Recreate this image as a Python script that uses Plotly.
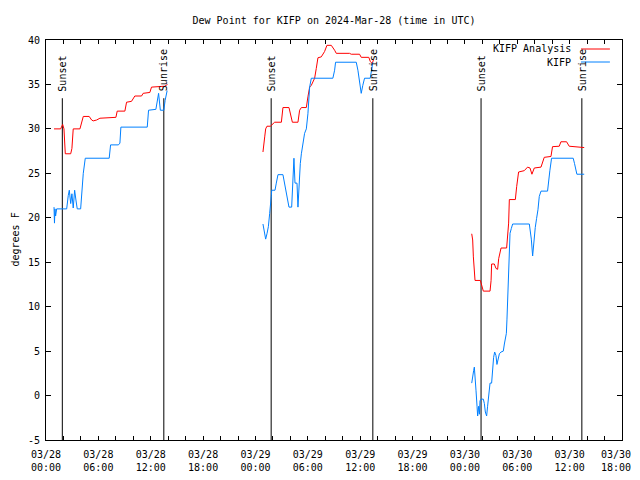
import plotly.graph_objects as go

# ---------------- data ----------------
title_text = "Dew Point for KIFP on 2024-Mar-28 (time in UTC)"
y_label = "degrees F"
series_names = ["KIFP Analysis", "KIFP"]

# hours since 03/28 00:00 UTC
x_tick_hours = list(range(0, 67, 2))
x_tick_labels = {0: "03/28<br>00:00", 6: "03/28<br>06:00", 12: "03/28<br>12:00", 18: "03/28<br>18:00",
                 24: "03/29<br>00:00", 30: "03/29<br>06:00", 36: "03/29<br>12:00", 42: "03/29<br>18:00",
                 48: "03/30<br>00:00", 54: "03/30<br>06:00", 60: "03/30<br>12:00", 66: "03/30<br>18:00"}
last_tick_hour = 66
y_tick_values = [-5, 0, 5, 10, 15, 20, 25, 30, 35, 40]

sunset_hours = [1.87, 25.8, 49.85]
sunrise_hours = [13.5, 37.45, 61.4]

analysis_h1 = [0.92, 1.68, 1.91, 2.06, 2.21, 2.83, 2.97, 3.12, 3.89, 4.04, 4.27, 4.95, 5.23, 5.41, 5.8, 6.18,
               6.75, 8.01, 8.16, 9.04, 9.23, 9.8, 10.18, 10.95, 11.13, 11.9, 12.09, 13.04, 13.6, 13.92]
analysis_d1 = [30.0, 30.0, 30.5, 30.0, 27.2, 27.2, 27.8, 30.0, 30.0, 30.6, 31.4, 31.4, 31.0, 30.9, 31.0, 31.2,
               31.25, 31.3, 32.0, 32.0, 33.0, 33.1, 33.7, 33.7, 34.0, 34.1, 34.7, 34.8, 34.8, 35.0]
analysis_h2 = [24.86, 24.94, 25.06, 25.17, 25.32, 25.71, 26.09, 26.2, 26.97, 27.04, 27.15, 27.84, 28.11, 28.23,
               28.87, 29.06, 29.26, 29.83, 30.01, 30.21, 30.4, 30.78, 30.97, 31.16, 31.54, 31.73, 31.92, 32.19,
               32.69, 33.07, 33.26, 34.78, 34.98, 35.93, 36.12, 36.99, 37.15, 37.38, 37.53]
analysis_d2 = [27.4, 28.35, 29.1, 30.0, 30.3, 30.3, 30.6, 30.75, 30.75, 31.9, 32.4, 32.4, 31.0, 30.75,
               30.75, 32.1, 32.4, 32.4, 33.6, 34.7, 34.9, 35.7, 36.8, 38.0, 38.1, 38.35, 38.7, 39.4,
               39.4, 38.85, 38.5, 38.5, 38.4, 38.4, 38.05, 38.05, 37.6, 37.35, 37.8]
analysis_h3 = [48.78, 48.89, 48.97, 49.08, 49.16, 49.77, 49.96, 50.11, 50.88, 51.0, 51.06, 51.37, 51.56, 51.75,
               51.87, 52.03, 52.14, 52.78, 52.9, 53.01, 53.09, 53.78, 53.93, 54.15, 54.8, 55.18, 55.46, 55.68,
               55.95, 56.72, 57.09, 57.86, 58.04, 58.81, 59.0, 59.65, 59.95, 61.1, 61.67]
analysis_d3 = [18.2, 17.5, 15.6, 13.7, 12.95, 12.95, 12.4, 11.75, 11.75, 12.95, 14.8, 14.8, 14.3, 14.2,
               15.4, 16.4, 16.6, 16.6, 17.7, 19.4, 22.05, 22.05, 23.5, 25.15, 25.3, 25.7, 25.6, 24.9,
               25.6, 25.7, 26.8, 26.9, 28.0, 28.05, 28.55, 28.55, 28.05, 28.0, 27.9]

obs_h1 = [0.92, 0.97, 1.03, 1.1, 1.22, 2.37, 2.55, 2.67, 2.83, 2.97, 3.12, 3.28, 3.43, 3.58, 3.97, 4.12, 4.27,
          4.5, 7.24, 7.4, 8.3, 8.47, 8.58, 11.6, 11.75, 12.59, 12.9, 13.1, 13.5, 13.65, 13.88]
obs_d1 = [21.2, 19.4, 21.0, 20.2, 21.0, 21.0, 22.5, 23.1, 21.6, 22.7, 21.1, 23.1, 22.0, 21.0, 21.0, 23.1, 25.0,
          26.7, 26.7, 28.2, 28.2, 28.4, 30.2, 30.2, 32.1, 32.2, 34.0, 32.1, 32.1, 33.2, 34.3]
obs_h2 = [24.86, 24.98, 25.17, 25.32, 25.48, 25.63, 25.71, 25.82, 25.86, 26.24, 26.39, 26.58, 27.15, 27.35,
          27.54, 27.72, 27.84, 28.15, 28.3, 28.41, 28.53, 28.76, 28.87, 28.99, 29.14, 29.26, 29.44, 29.63,
          29.83, 30.01, 30.21, 30.4, 32.87, 33.07, 33.18, 35.55, 35.74, 35.93, 36.12, 36.3, 36.5, 37.15,
          37.3, 37.45]
obs_d2 = [19.3, 18.6, 17.6, 18.2, 19.0, 20.5, 21.1, 22.5, 23.1, 23.1, 23.9, 24.85, 24.85, 23.9,
          22.7, 21.8, 21.2, 21.2, 23.9, 26.7, 23.9, 23.9, 21.2, 23.9, 26.1, 27.2, 28.35, 29.5,
          30.0, 31.7, 34.7, 35.7, 35.7, 36.6, 37.5, 37.5, 36.6, 35.1, 34.0, 34.9, 35.7, 35.7,
          36.6, 37.5]
obs_h3 = [48.78, 48.89, 49.0, 49.08, 49.16, 49.27, 49.39, 49.46, 49.58, 49.66, 49.73, 49.85, 50.11, 50.23,
          50.34, 50.49, 50.6, 50.72, 50.88, 51.06, 51.18, 51.29, 51.41, 51.56, 51.67, 51.79, 51.95, 52.14,
          52.4, 52.52, 52.63, 52.75, 52.82, 52.94, 53.01, 53.17, 53.32, 53.47, 55.38, 55.49, 55.61, 55.76,
          55.91, 56.06, 56.21, 56.37, 56.52, 56.72, 57.47, 57.59, 57.74, 57.93, 60.41, 60.56, 60.72, 60.83,
          61.67]
obs_d3 = [1.4, 2.35, 2.8, 3.2, 2.35, 0.6, -1.2, -2.3, -1.2, -2.1, -0.6, -0.4, -0.4, -0.9,
          -1.85, -2.3, -1.2, -0.3, 1.4, 1.4, 3.2, 4.3, 4.9, 4.5, 3.5, 3.9, 4.7, 4.9,
          5.0, 5.8, 6.3, 7.0, 8.6, 12.2, 15.7, 18.25, 18.8, 19.3, 19.3, 18.6, 17.6, 15.7,
          17.5, 18.9, 19.9, 20.9, 22.4, 23.0, 23.0, 24.25, 25.35, 26.7, 26.7, 26.1, 25.2, 24.9,
          24.9]

analysis_hours = analysis_h1 + [None] + analysis_h2 + [None] + analysis_h3
analysis_dewpt = analysis_d1 + [None] + analysis_d2 + [None] + analysis_d3
obs_hours = obs_h1 + [None] + obs_h2 + [None] + obs_h3
obs_dewpt = obs_d1 + [None] + obs_d2 + [None] + obs_d3

# ---------------- figure ----------------
FONT = "DejaVu Sans Mono"
RED = "#ff0000"
BLUE = "#0080ff"
# the page body adds an 8px margin on every side; size the figure so the page does not scroll
FIG_W, FIG_H = 624, 464
M_L, M_R, M_T, M_B = 38, 10, 32, 32

fig = go.Figure()
fig.add_trace(go.Scatter(x=analysis_hours, y=analysis_dewpt, mode="lines", name=series_names[0],
                         line=dict(color=RED, width=1), connectgaps=False, showlegend=False))
fig.add_trace(go.Scatter(x=obs_hours, y=obs_dewpt, mode="lines", name=series_names[1],
                         line=dict(color=BLUE, width=1), connectgaps=False, showlegend=False))

line_top = 33.45
for label, hours in (("Sunset", sunset_hours), ("Sunrise", sunrise_hours)):
    for h in hours:
        fig.add_shape(type="line", x0=h, x1=h, y0=-5, y1=line_top, xref="x", yref="y",
                      line=dict(color="black", width=1), layer="below")
        fig.add_annotation(x=h, y=34.0, xref="x", yref="y", text=label, textangle=-90,
                           showarrow=False, yanchor="bottom", xanchor="center",
                           font=dict(family=FONT, size=10, color="black"))

# key (gnuplot style: text right-aligned, sample line to the right)
key_rows = [(0.9775, series_names[0], RED), (0.945, series_names[1], BLUE)]
for ky, name, col in key_rows:
    fig.add_annotation(x=0.915, y=ky, xref="paper", yref="paper", text=name, showarrow=False,
                       xanchor="right", yanchor="middle", font=dict(family=FONT, size=10, color="black"))
    fig.add_shape(type="line", x0=0.9288, x1=0.979, y0=ky, y1=ky, xref="paper", yref="paper",
                  line=dict(color=col, width=1))

# y-axis label, kept inside the figure's left edge
plot_w = FIG_W - M_L - M_R
fig.add_annotation(x=-M_L / plot_w, y=0.5, xref="paper", yref="paper", text=y_label, textangle=-90,
                   showarrow=False, xanchor="left", yanchor="middle", borderpad=0,
                   font=dict(family=FONT, size=10, color="black"))

# last x tick label: placed so that it stays inside the page
fig.add_annotation(x=last_tick_hour, y=0, xref="x", yref="paper", text=x_tick_labels[last_tick_hour],
                   showarrow=False, xanchor="right", yanchor="middle", xshift=M_R, yshift=-20.5,
                   borderpad=0, font=dict(family=FONT, size=10, color="black"))

fig.update_layout(
    width=FIG_W, height=FIG_H,
    margin=dict(l=M_L, r=M_R, t=M_T, b=M_B, autoexpand=False),
    paper_bgcolor="white", plot_bgcolor="white",
    title=dict(text=title_text, x=(M_L + 288) / FIG_W, xanchor="center", y=1 - 12 / FIG_H, yanchor="middle",
               font=dict(family=FONT, size=10, color="black")),
    font=dict(family=FONT, size=10, color="black"),
    showlegend=False,
)
fig.update_xaxes(range=[0, 66], showgrid=False, zeroline=False, automargin=False,
                 tickmode="array", tickvals=x_tick_hours,
                 ticktext=[x_tick_labels[h] if (h in x_tick_labels and h != last_tick_hour) else ""
                           for h in x_tick_hours],
                 ticks="inside", ticklen=4, tickcolor="black", mirror="allticks",
                 showline=True, linecolor="black", linewidth=1, ticklabelstandoff=5,
                 tickfont=dict(family=FONT, size=10, color="black"))
fig.update_yaxes(range=[-5, 40], showgrid=False, zeroline=False, automargin=False,
                 tickmode="array", tickvals=y_tick_values, ticktext=[str(v) for v in y_tick_values],
                 ticks="inside", ticklen=5, tickcolor="black", mirror="allticks",
                 showline=True, linecolor="black", linewidth=1, ticklabelstandoff=3,
                 tickfont=dict(family=FONT, size=10, color="black"))

fig.write_html("out.html")
